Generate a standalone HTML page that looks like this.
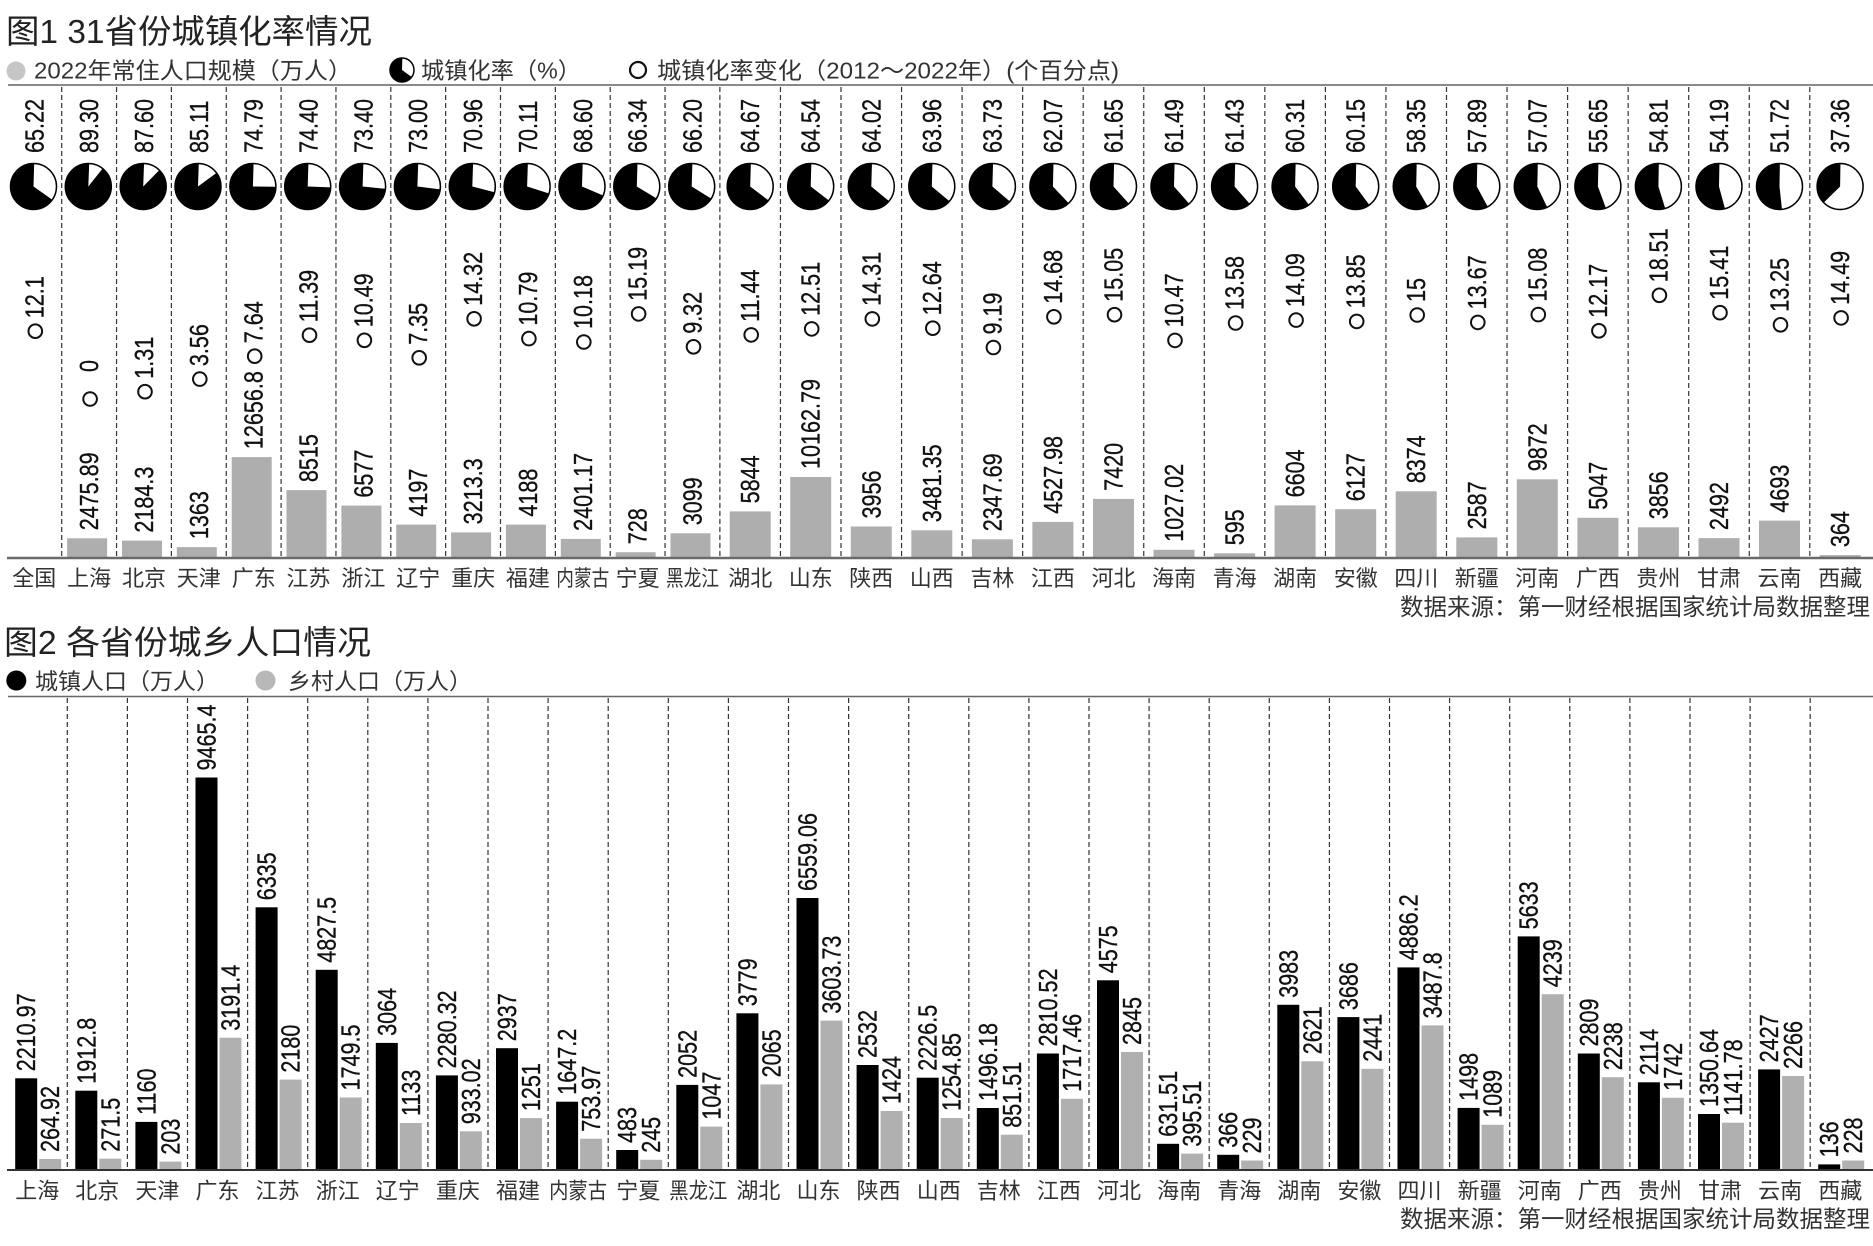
<!DOCTYPE html>
<html><head><meta charset="utf-8">
<style>
html,body{margin:0;padding:0;background:#fff;}
svg{display:block}
text{font-family:"Liberation Sans","Noto Sans CJK SC",sans-serif}
.n{font-size:26px;fill:#111;stroke:#111;stroke-width:0.35}
.c{font-size:22px;fill:#333;text-anchor:middle}
.h{font-size:33px;fill:#222}
.l{font-size:23px;fill:#333}
.s{font-size:23.5px;fill:#333;text-anchor:end}
.d{stroke:#333;stroke-width:1.2;stroke-dasharray:5 3;fill:none}
.g{fill:#aeaeae}
.k{fill:#000}
.po{fill:#fff;stroke:#000;stroke-width:1.5}
.pw{fill:none;stroke:#000;stroke-width:23}
.o{fill:#fff;stroke:#111;stroke-width:2}
</style></head>
<body>
<svg width="1873" height="1246" viewBox="0 0 1873 1246" xmlns="http://www.w3.org/2000/svg">
<rect width="1873" height="1246" fill="#fff"/>

<!-- ============ FIGURE 1 ============ -->
<text class="h" x="6" y="43" textLength="366" lengthAdjust="spacingAndGlyphs">图1 31省份城镇化率情况</text>
<circle cx="16" cy="71" r="9.5" fill="#c6c6c6"/>
<text class="l" x="34" y="78.5" textLength="318" lengthAdjust="spacingAndGlyphs">2022年常住人口规模（万人）</text>
<circle cx="402" cy="70" r="12" class="po"/>
<circle cx="402" cy="70" r="6" fill="none" stroke="#000" stroke-width="12" stroke-dasharray="24.5 100" transform="rotate(36 402 70)"/>
<text class="l" x="421" y="78.5" textLength="160" lengthAdjust="spacingAndGlyphs">城镇化率（%）</text>
<circle cx="638" cy="70" r="8" fill="none" stroke="#111" stroke-width="2.2"/>
<text class="l" x="657" y="78.5" textLength="462" lengthAdjust="spacingAndGlyphs">城镇化率变化（2012～2022年）(个百分点)</text>
<line x1="8" y1="85" x2="1873" y2="85" stroke="#8a8a8a" stroke-width="2"/>

<!-- dashed separators fig1 -->
<g class="d">
<line x1="61.7" y1="87" x2="61.7" y2="558"/><line x1="116.55" y1="87" x2="116.55" y2="558"/><line x1="171.4" y1="87" x2="171.4" y2="558"/><line x1="226.25" y1="87" x2="226.25" y2="558"/><line x1="281.1" y1="87" x2="281.1" y2="558"/><line x1="335.95" y1="87" x2="335.95" y2="558"/><line x1="390.8" y1="87" x2="390.8" y2="558"/><line x1="445.65" y1="87" x2="445.65" y2="558"/><line x1="500.5" y1="87" x2="500.5" y2="558"/><line x1="555.35" y1="87" x2="555.35" y2="558"/><line x1="610.2" y1="87" x2="610.2" y2="558"/><line x1="665.05" y1="87" x2="665.05" y2="558"/><line x1="719.9" y1="87" x2="719.9" y2="558"/><line x1="780.45" y1="87" x2="780.45" y2="558"/><line x1="841" y1="87" x2="841" y2="558"/><line x1="901.55" y1="87" x2="901.55" y2="558"/><line x1="962.1" y1="87" x2="962.1" y2="558"/><line x1="1022.65" y1="87" x2="1022.65" y2="558"/><line x1="1083.2" y1="87" x2="1083.2" y2="558"/><line x1="1143.75" y1="87" x2="1143.75" y2="558"/><line x1="1204.3" y1="87" x2="1204.3" y2="558"/><line x1="1264.85" y1="87" x2="1264.85" y2="558"/><line x1="1325.4" y1="87" x2="1325.4" y2="558"/><line x1="1385.95" y1="87" x2="1385.95" y2="558"/><line x1="1446.5" y1="87" x2="1446.5" y2="558"/><line x1="1507.05" y1="87" x2="1507.05" y2="558"/><line x1="1567.6" y1="87" x2="1567.6" y2="558"/><line x1="1628.15" y1="87" x2="1628.15" y2="558"/><line x1="1688.7" y1="87" x2="1688.7" y2="558"/><line x1="1749.25" y1="87" x2="1749.25" y2="558"/><line x1="1809.8" y1="87" x2="1809.8" y2="558"/>
</g>

<!-- percent labels -->
<g class="n">
<text transform="translate(43.3,153) rotate(-90) scale(.83,1)">65.22</text>
<text transform="translate(98.1,153) rotate(-90) scale(.83,1)">89.30</text>
<text transform="translate(153,153) rotate(-90) scale(.83,1)">87.60</text>
<text transform="translate(207.8,153) rotate(-90) scale(.83,1)">85.11</text>
<text transform="translate(262.7,153) rotate(-90) scale(.83,1)">74.79</text>
<text transform="translate(317.5,153) rotate(-90) scale(.83,1)">74.40</text>
<text transform="translate(372.4,153) rotate(-90) scale(.83,1)">73.40</text>
<text transform="translate(427.2,153) rotate(-90) scale(.83,1)">73.00</text>
<text transform="translate(482.1,153) rotate(-90) scale(.83,1)">70.96</text>
<text transform="translate(536.9,153) rotate(-90) scale(.83,1)">70.11</text>
<text transform="translate(591.8,153) rotate(-90) scale(.83,1)">68.60</text>
<text transform="translate(646.6,153) rotate(-90) scale(.83,1)">66.34</text>
<text transform="translate(701.5,153) rotate(-90) scale(.83,1)">66.20</text>
<text transform="translate(759.2,153) rotate(-90) scale(.83,1)">64.67</text>
<text transform="translate(819.7,153) rotate(-90) scale(.83,1)">64.54</text>
<text transform="translate(880.3,153) rotate(-90) scale(.83,1)">64.02</text>
<text transform="translate(940.8,153) rotate(-90) scale(.83,1)">63.96</text>
<text transform="translate(1001.4,153) rotate(-90) scale(.83,1)">63.73</text>
<text transform="translate(1061.9,153) rotate(-90) scale(.83,1)">62.07</text>
<text transform="translate(1122.5,153) rotate(-90) scale(.83,1)">61.65</text>
<text transform="translate(1183,153) rotate(-90) scale(.83,1)">61.49</text>
<text transform="translate(1243.6,153) rotate(-90) scale(.83,1)">61.43</text>
<text transform="translate(1304.1,153) rotate(-90) scale(.83,1)">60.31</text>
<text transform="translate(1364.7,153) rotate(-90) scale(.83,1)">60.15</text>
<text transform="translate(1425.2,153) rotate(-90) scale(.83,1)">58.35</text>
<text transform="translate(1485.8,153) rotate(-90) scale(.83,1)">57.89</text>
<text transform="translate(1546.3,153) rotate(-90) scale(.83,1)">57.07</text>
<text transform="translate(1606.9,153) rotate(-90) scale(.83,1)">55.65</text>
<text transform="translate(1667.4,153) rotate(-90) scale(.83,1)">54.81</text>
<text transform="translate(1728,153) rotate(-90) scale(.83,1)">54.19</text>
<text transform="translate(1788.5,153) rotate(-90) scale(.83,1)">51.72</text>
<text transform="translate(1849.1,153) rotate(-90) scale(.83,1)">37.36</text>
</g>

<!-- pies -->
<g>
<circle cx="33.5" cy="186.5" r="23" class="po"/><circle cx="33.5" cy="186.5" r="11.5" class="pw" stroke-dasharray="47.13 200" transform="rotate(35.21 33.5 186.5)"/>
<circle cx="88.3" cy="186.5" r="23" class="po"/><circle cx="88.3" cy="186.5" r="11.5" class="pw" stroke-dasharray="64.53 200" transform="rotate(-51.48 88.3 186.5)"/>
<circle cx="143.2" cy="186.5" r="23" class="po"/><circle cx="143.2" cy="186.5" r="11.5" class="pw" stroke-dasharray="63.30 200" transform="rotate(-45.36 143.2 186.5)"/>
<circle cx="198" cy="186.5" r="23" class="po"/><circle cx="198" cy="186.5" r="11.5" class="pw" stroke-dasharray="61.50 200" transform="rotate(-36.40 198 186.5)"/>
<circle cx="252.9" cy="186.5" r="23" class="po"/><circle cx="252.9" cy="186.5" r="11.5" class="pw" stroke-dasharray="54.04 200" transform="rotate(0.76 252.9 186.5)"/>
<circle cx="307.7" cy="186.5" r="23" class="po"/><circle cx="307.7" cy="186.5" r="11.5" class="pw" stroke-dasharray="53.76 200" transform="rotate(2.16 307.7 186.5)"/>
<circle cx="362.6" cy="186.5" r="23" class="po"/><circle cx="362.6" cy="186.5" r="11.5" class="pw" stroke-dasharray="53.04 200" transform="rotate(5.76 362.6 186.5)"/>
<circle cx="417.4" cy="186.5" r="23" class="po"/><circle cx="417.4" cy="186.5" r="11.5" class="pw" stroke-dasharray="52.75 200" transform="rotate(7.2 417.4 186.5)"/>
<circle cx="472.3" cy="186.5" r="23" class="po"/><circle cx="472.3" cy="186.5" r="11.5" class="pw" stroke-dasharray="51.27 200" transform="rotate(14.54 472.3 186.5)"/>
<circle cx="527.1" cy="186.5" r="23" class="po"/><circle cx="527.1" cy="186.5" r="11.5" class="pw" stroke-dasharray="50.66 200" transform="rotate(17.60 527.1 186.5)"/>
<circle cx="582" cy="186.5" r="23" class="po"/><circle cx="582" cy="186.5" r="11.5" class="pw" stroke-dasharray="49.57 200" transform="rotate(23.04 582 186.5)"/>
<circle cx="636.8" cy="186.5" r="23" class="po"/><circle cx="636.8" cy="186.5" r="11.5" class="pw" stroke-dasharray="47.94 200" transform="rotate(31.18 636.8 186.5)"/>
<circle cx="691.7" cy="186.5" r="23" class="po"/><circle cx="691.7" cy="186.5" r="11.5" class="pw" stroke-dasharray="47.83 200" transform="rotate(31.68 691.7 186.5)"/>
<circle cx="750.2" cy="186.5" r="23" class="po"/><circle cx="750.2" cy="186.5" r="11.5" class="pw" stroke-dasharray="46.73 200" transform="rotate(37.19 750.2 186.5)"/>
<circle cx="810.7" cy="186.5" r="23" class="po"/><circle cx="810.7" cy="186.5" r="11.5" class="pw" stroke-dasharray="46.63 200" transform="rotate(37.66 810.7 186.5)"/>
<circle cx="871.3" cy="186.5" r="23" class="po"/><circle cx="871.3" cy="186.5" r="11.5" class="pw" stroke-dasharray="46.26 200" transform="rotate(39.53 871.3 186.5)"/>
<circle cx="931.8" cy="186.5" r="23" class="po"/><circle cx="931.8" cy="186.5" r="11.5" class="pw" stroke-dasharray="46.22 200" transform="rotate(39.74 931.8 186.5)"/>
<circle cx="992.4" cy="186.5" r="23" class="po"/><circle cx="992.4" cy="186.5" r="11.5" class="pw" stroke-dasharray="46.05 200" transform="rotate(40.57 992.4 186.5)"/>
<circle cx="1052.9" cy="186.5" r="23" class="po"/><circle cx="1052.9" cy="186.5" r="11.5" class="pw" stroke-dasharray="44.85 200" transform="rotate(46.55 1052.9 186.5)"/>
<circle cx="1113.5" cy="186.5" r="23" class="po"/><circle cx="1113.5" cy="186.5" r="11.5" class="pw" stroke-dasharray="44.55 200" transform="rotate(48.06 1113.5 186.5)"/>
<circle cx="1174" cy="186.5" r="23" class="po"/><circle cx="1174" cy="186.5" r="11.5" class="pw" stroke-dasharray="44.43 200" transform="rotate(48.64 1174 186.5)"/>
<circle cx="1234.6" cy="186.5" r="23" class="po"/><circle cx="1234.6" cy="186.5" r="11.5" class="pw" stroke-dasharray="44.39 200" transform="rotate(48.85 1234.6 186.5)"/>
<circle cx="1295.1" cy="186.5" r="23" class="po"/><circle cx="1295.1" cy="186.5" r="11.5" class="pw" stroke-dasharray="43.58 200" transform="rotate(52.88 1295.1 186.5)"/>
<circle cx="1355.7" cy="186.5" r="23" class="po"/><circle cx="1355.7" cy="186.5" r="11.5" class="pw" stroke-dasharray="43.46 200" transform="rotate(53.46 1355.7 186.5)"/>
<circle cx="1416.2" cy="186.5" r="23" class="po"/><circle cx="1416.2" cy="186.5" r="11.5" class="pw" stroke-dasharray="42.16 200" transform="rotate(59.94 1416.2 186.5)"/>
<circle cx="1476.8" cy="186.5" r="23" class="po"/><circle cx="1476.8" cy="186.5" r="11.5" class="pw" stroke-dasharray="41.83 200" transform="rotate(61.60 1476.8 186.5)"/>
<circle cx="1537.3" cy="186.5" r="23" class="po"/><circle cx="1537.3" cy="186.5" r="11.5" class="pw" stroke-dasharray="41.24 200" transform="rotate(64.55 1537.3 186.5)"/>
<circle cx="1597.9" cy="186.5" r="23" class="po"/><circle cx="1597.9" cy="186.5" r="11.5" class="pw" stroke-dasharray="40.21 200" transform="rotate(69.66 1597.9 186.5)"/>
<circle cx="1658.4" cy="186.5" r="23" class="po"/><circle cx="1658.4" cy="186.5" r="11.5" class="pw" stroke-dasharray="39.60 200" transform="rotate(72.68 1658.4 186.5)"/>
<circle cx="1719" cy="186.5" r="23" class="po"/><circle cx="1719" cy="186.5" r="11.5" class="pw" stroke-dasharray="39.16 200" transform="rotate(74.92 1719 186.5)"/>
<circle cx="1779.5" cy="186.5" r="23" class="po"/><circle cx="1779.5" cy="186.5" r="11.5" class="pw" stroke-dasharray="37.37 200" transform="rotate(83.81 1779.5 186.5)"/>
<circle cx="1840.1" cy="186.5" r="23" class="po"/><circle cx="1840.1" cy="186.5" r="11.5" class="pw" stroke-dasharray="27.00 200" transform="rotate(135.50 1840.1 186.5)"/>
</g>

<!-- change markers -->
<g>
<circle cx="35.3" cy="331.2" r="6.8" class="o"/>
<circle cx="90.1" cy="399" r="6.8" class="o"/>
<circle cx="145" cy="391.7" r="6.8" class="o"/>
<circle cx="199.8" cy="379.1" r="6.8" class="o"/>
<circle cx="254.7" cy="356.2" r="6.8" class="o"/>
<circle cx="309.5" cy="335.2" r="6.8" class="o"/>
<circle cx="364.4" cy="340.3" r="6.8" class="o"/>
<circle cx="419.2" cy="357.8" r="6.8" class="o"/>
<circle cx="474.1" cy="318.8" r="6.8" class="o"/>
<circle cx="528.9" cy="338.6" r="6.8" class="o"/>
<circle cx="583.8" cy="342" r="6.8" class="o"/>
<circle cx="638.6" cy="313.9" r="6.8" class="o"/>
<circle cx="693.5" cy="346.8" r="6.8" class="o"/>
<circle cx="751.2" cy="334.9" r="6.8" class="o"/>
<circle cx="811.7" cy="328.9" r="6.8" class="o"/>
<circle cx="872.3" cy="318.9" r="6.8" class="o"/>
<circle cx="932.8" cy="328.2" r="6.8" class="o"/>
<circle cx="993.4" cy="347.5" r="6.8" class="o"/>
<circle cx="1053.9" cy="316.8" r="6.8" class="o"/>
<circle cx="1114.5" cy="314.7" r="6.8" class="o"/>
<circle cx="1175" cy="340.4" r="6.8" class="o"/>
<circle cx="1235.6" cy="323" r="6.8" class="o"/>
<circle cx="1296.1" cy="320.1" r="6.8" class="o"/>
<circle cx="1356.7" cy="321.4" r="6.8" class="o"/>
<circle cx="1417.2" cy="315" r="6.8" class="o"/>
<circle cx="1477.8" cy="322.4" r="6.8" class="o"/>
<circle cx="1538.3" cy="314.6" r="6.8" class="o"/>
<circle cx="1598.9" cy="330.8" r="6.8" class="o"/>
<circle cx="1659.4" cy="295.3" r="6.8" class="o"/>
<circle cx="1720" cy="312.7" r="6.8" class="o"/>
<circle cx="1780.5" cy="324.8" r="6.8" class="o"/>
<circle cx="1841.1" cy="317.9" r="6.8" class="o"/>
</g>
<g class="n">
<text transform="translate(43.3,318.2) rotate(-90) scale(.83,1)">12.1</text>
<text transform="translate(98.1,372) rotate(-90) scale(.83,1)">0</text>
<text transform="translate(153,378.7) rotate(-90) scale(.83,1)">1.31</text>
<text transform="translate(207.8,366.1) rotate(-90) scale(.83,1)">3.56</text>
<text transform="translate(262.7,343.2) rotate(-90) scale(.83,1)">7.64</text>
<text transform="translate(317.5,322.2) rotate(-90) scale(.83,1)">11.39</text>
<text transform="translate(372.4,327.3) rotate(-90) scale(.83,1)">10.49</text>
<text transform="translate(427.2,344.8) rotate(-90) scale(.83,1)">7.35</text>
<text transform="translate(482.1,305.8) rotate(-90) scale(.83,1)">14.32</text>
<text transform="translate(536.9,325.6) rotate(-90) scale(.83,1)">10.79</text>
<text transform="translate(591.8,329) rotate(-90) scale(.83,1)">10.18</text>
<text transform="translate(646.6,300.9) rotate(-90) scale(.83,1)">15.19</text>
<text transform="translate(701.5,333.8) rotate(-90) scale(.83,1)">9.32</text>
<text transform="translate(759.2,321.9) rotate(-90) scale(.83,1)">11.44</text>
<text transform="translate(819.7,315.9) rotate(-90) scale(.83,1)">12.51</text>
<text transform="translate(880.3,305.9) rotate(-90) scale(.83,1)">14.31</text>
<text transform="translate(940.8,315.2) rotate(-90) scale(.83,1)">12.64</text>
<text transform="translate(1001.4,334.5) rotate(-90) scale(.83,1)">9.19</text>
<text transform="translate(1061.9,303.8) rotate(-90) scale(.83,1)">14.68</text>
<text transform="translate(1122.5,301.7) rotate(-90) scale(.83,1)">15.05</text>
<text transform="translate(1183,327.4) rotate(-90) scale(.83,1)">10.47</text>
<text transform="translate(1243.6,310) rotate(-90) scale(.83,1)">13.58</text>
<text transform="translate(1304.1,307.1) rotate(-90) scale(.83,1)">14.09</text>
<text transform="translate(1364.7,308.4) rotate(-90) scale(.83,1)">13.85</text>
<text transform="translate(1425.2,302) rotate(-90) scale(.83,1)">15</text>
<text transform="translate(1485.8,309.4) rotate(-90) scale(.83,1)">13.67</text>
<text transform="translate(1546.3,301.6) rotate(-90) scale(.83,1)">15.08</text>
<text transform="translate(1606.9,317.8) rotate(-90) scale(.83,1)">12.17</text>
<text transform="translate(1667.4,282.3) rotate(-90) scale(.83,1)">18.51</text>
<text transform="translate(1728,299.7) rotate(-90) scale(.83,1)">15.41</text>
<text transform="translate(1788.5,311.8) rotate(-90) scale(.83,1)">13.25</text>
<text transform="translate(1849.1,304.9) rotate(-90) scale(.83,1)">14.49</text>
</g>

<!-- population bars -->
<g class="g">
<rect x="67.1" y="538.3" width="40" height="19.7"/>
<rect x="122" y="540.6" width="40" height="17.4"/>
<rect x="176.8" y="547.1" width="40" height="10.9"/>
<rect x="231.7" y="457.1" width="40" height="100.9"/>
<rect x="286.5" y="490.1" width="40" height="67.9"/>
<rect x="341.4" y="505.6" width="40" height="52.4"/>
<rect x="396.2" y="524.6" width="40" height="33.4"/>
<rect x="451.1" y="532.4" width="40" height="25.6"/>
<rect x="505.9" y="524.6" width="40" height="33.4"/>
<rect x="560.8" y="538.9" width="40" height="19.1"/>
<rect x="615.6" y="552.2" width="40" height="5.8"/>
<rect x="670.5" y="533.3" width="40" height="24.7"/>
<rect x="729.7" y="511.4" width="41" height="46.6"/>
<rect x="790.2" y="477" width="41" height="81"/>
<rect x="850.8" y="526.5" width="41" height="31.5"/>
<rect x="911.3" y="530.3" width="41" height="27.7"/>
<rect x="971.9" y="539.3" width="41" height="18.7"/>
<rect x="1032.4" y="521.9" width="41" height="36.1"/>
<rect x="1093" y="498.9" width="41" height="59.1"/>
<rect x="1153.5" y="549.8" width="41" height="8.2"/>
<rect x="1214.1" y="553.3" width="41" height="4.7"/>
<rect x="1274.6" y="505.4" width="41" height="52.6"/>
<rect x="1335.2" y="509.2" width="41" height="48.8"/>
<rect x="1395.7" y="491.3" width="41" height="66.7"/>
<rect x="1456.3" y="537.4" width="41" height="20.6"/>
<rect x="1516.8" y="479.3" width="41" height="78.7"/>
<rect x="1577.4" y="517.8" width="41" height="40.2"/>
<rect x="1637.9" y="527.3" width="41" height="30.7"/>
<rect x="1698.5" y="538.1" width="41" height="19.9"/>
<rect x="1759" y="520.6" width="41" height="37.4"/>
<rect x="1819.6" y="555.1" width="41" height="2.9"/>
</g>
<g class="n">
<text transform="translate(98.1,530.3) rotate(-90) scale(.83,1)">2475.89</text>
<text transform="translate(153,532.6) rotate(-90) scale(.83,1)">2184.3</text>
<text transform="translate(207.8,539.1) rotate(-90) scale(.83,1)">1363</text>
<text transform="translate(262.7,449.1) rotate(-90) scale(.83,1)">12656.8</text>
<text transform="translate(317.5,482.1) rotate(-90) scale(.83,1)">8515</text>
<text transform="translate(372.4,497.6) rotate(-90) scale(.83,1)">6577</text>
<text transform="translate(427.2,516.6) rotate(-90) scale(.83,1)">4197</text>
<text transform="translate(482.1,524.4) rotate(-90) scale(.83,1)">3213.3</text>
<text transform="translate(536.9,516.6) rotate(-90) scale(.83,1)">4188</text>
<text transform="translate(591.8,530.9) rotate(-90) scale(.83,1)">2401.17</text>
<text transform="translate(646.6,544.2) rotate(-90) scale(.83,1)">728</text>
<text transform="translate(701.5,525.3) rotate(-90) scale(.83,1)">3099</text>
<text transform="translate(759.2,503.4) rotate(-90) scale(.83,1)">5844</text>
<text transform="translate(819.7,469) rotate(-90) scale(.83,1)">10162.79</text>
<text transform="translate(880.3,518.5) rotate(-90) scale(.83,1)">3956</text>
<text transform="translate(940.8,522.3) rotate(-90) scale(.83,1)">3481.35</text>
<text transform="translate(1001.4,531.3) rotate(-90) scale(.83,1)">2347.69</text>
<text transform="translate(1061.9,513.9) rotate(-90) scale(.83,1)">4527.98</text>
<text transform="translate(1122.5,490.9) rotate(-90) scale(.83,1)">7420</text>
<text transform="translate(1183,541.8) rotate(-90) scale(.83,1)">1027.02</text>
<text transform="translate(1243.6,545.3) rotate(-90) scale(.83,1)">595</text>
<text transform="translate(1304.1,497.4) rotate(-90) scale(.83,1)">6604</text>
<text transform="translate(1364.7,501.2) rotate(-90) scale(.83,1)">6127</text>
<text transform="translate(1425.2,483.3) rotate(-90) scale(.83,1)">8374</text>
<text transform="translate(1485.8,529.4) rotate(-90) scale(.83,1)">2587</text>
<text transform="translate(1546.3,471.3) rotate(-90) scale(.83,1)">9872</text>
<text transform="translate(1606.9,509.8) rotate(-90) scale(.83,1)">5047</text>
<text transform="translate(1667.4,519.3) rotate(-90) scale(.83,1)">3856</text>
<text transform="translate(1728,530.1) rotate(-90) scale(.83,1)">2492</text>
<text transform="translate(1788.5,512.6) rotate(-90) scale(.83,1)">4693</text>
<text transform="translate(1849.1,547.1) rotate(-90) scale(.83,1)">364</text>
</g>

<line x1="7" y1="558" x2="1873" y2="558" stroke="#6a6a6a" stroke-width="2.5"/>

<g class="c">
<text x="34.3" y="586">全国</text><text x="89.1" y="586">上海</text><text x="144" y="586">北京</text><text x="198.8" y="586">天津</text><text x="253.7" y="586">广东</text><text x="308.5" y="586">江苏</text><text x="363.4" y="586">浙江</text><text x="418.2" y="586">辽宁</text><text x="473.1" y="586">重庆</text><text x="527.9" y="586">福建</text><text x="582.8" y="586" textLength="53" lengthAdjust="spacingAndGlyphs">内蒙古</text><text x="637.6" y="586">宁夏</text><text x="692.5" y="586" textLength="53" lengthAdjust="spacingAndGlyphs">黑龙江</text><text x="750.2" y="586">湖北</text><text x="810.7" y="586">山东</text><text x="871.3" y="586">陕西</text><text x="931.8" y="586">山西</text><text x="992.4" y="586">吉林</text><text x="1052.9" y="586">江西</text><text x="1113.5" y="586">河北</text><text x="1174" y="586">海南</text><text x="1234.6" y="586">青海</text><text x="1295.1" y="586">湖南</text><text x="1355.7" y="586">安徽</text><text x="1416.2" y="586">四川</text><text x="1476.8" y="586">新疆</text><text x="1537.3" y="586">河南</text><text x="1597.9" y="586">广西</text><text x="1658.4" y="586">贵州</text><text x="1719" y="586">甘肃</text><text x="1779.5" y="586">云南</text><text x="1840.1" y="586">西藏</text>
</g>
<text class="s" x="1870" y="615" textLength="470" lengthAdjust="spacingAndGlyphs">数据来源：第一财经根据国家统计局数据整理</text>

<!-- ============ FIGURE 2 ============ -->
<text class="h" x="4" y="654" textLength="367" lengthAdjust="spacingAndGlyphs">图2 各省份城乡人口情况</text>
<circle cx="16.3" cy="680.5" r="10" fill="#000"/>
<text class="l" x="35" y="689.5" textLength="184" lengthAdjust="spacingAndGlyphs" style="font-size:22.5px">城镇人口（万人）</text>
<circle cx="265.5" cy="680.5" r="10" fill="#b8b8b8"/>
<text class="l" x="288" y="689.5" textLength="184" lengthAdjust="spacingAndGlyphs" style="font-size:22.5px">乡村人口（万人）</text>
<line x1="8" y1="696.5" x2="1873" y2="696.5" stroke="#666" stroke-width="1.5"/>

<g class="d">
<line x1="67.3" y1="698" x2="67.3" y2="1170"/><line x1="127.4" y1="698" x2="127.4" y2="1170"/><line x1="187.5" y1="698" x2="187.5" y2="1170"/><line x1="247.6" y1="698" x2="247.6" y2="1170"/><line x1="307.7" y1="698" x2="307.7" y2="1170"/><line x1="367.8" y1="698" x2="367.8" y2="1170"/><line x1="427.9" y1="698" x2="427.9" y2="1170"/><line x1="488" y1="698" x2="488" y2="1170"/><line x1="548.1" y1="698" x2="548.1" y2="1170"/><line x1="608.2" y1="698" x2="608.2" y2="1170"/><line x1="668.3" y1="698" x2="668.3" y2="1170"/><line x1="728.4" y1="698" x2="728.4" y2="1170"/><line x1="788.5" y1="698" x2="788.5" y2="1170"/><line x1="848.6" y1="698" x2="848.6" y2="1170"/><line x1="908.7" y1="698" x2="908.7" y2="1170"/><line x1="968.8" y1="698" x2="968.8" y2="1170"/><line x1="1028.9" y1="698" x2="1028.9" y2="1170"/><line x1="1089" y1="698" x2="1089" y2="1170"/><line x1="1149.1" y1="698" x2="1149.1" y2="1170"/><line x1="1209.2" y1="698" x2="1209.2" y2="1170"/><line x1="1269.3" y1="698" x2="1269.3" y2="1170"/><line x1="1329.4" y1="698" x2="1329.4" y2="1170"/><line x1="1389.5" y1="698" x2="1389.5" y2="1170"/><line x1="1449.6" y1="698" x2="1449.6" y2="1170"/><line x1="1509.7" y1="698" x2="1509.7" y2="1170"/><line x1="1569.8" y1="698" x2="1569.8" y2="1170"/><line x1="1629.9" y1="698" x2="1629.9" y2="1170"/><line x1="1690" y1="698" x2="1690" y2="1170"/><line x1="1750.1" y1="698" x2="1750.1" y2="1170"/><line x1="1810.2" y1="698" x2="1810.2" y2="1170"/>
</g>

<!-- urban bars (black) -->
<g class="k">
<rect x="15.2" y="1078.3" width="22" height="91.7"/>
<rect x="75.3" y="1090.7" width="22" height="79.3"/>
<rect x="135.4" y="1121.9" width="22" height="48.1"/>
<rect x="195.5" y="777.5" width="22" height="392.5"/>
<rect x="255.6" y="907.3" width="22" height="262.7"/>
<rect x="315.7" y="969.8" width="22" height="200.2"/>
<rect x="375.8" y="1042.9" width="22" height="127.1"/>
<rect x="435.9" y="1075.4" width="22" height="94.6"/>
<rect x="496" y="1048.2" width="22" height="121.8"/>
<rect x="556.1" y="1101.7" width="22" height="68.3"/>
<rect x="616.2" y="1150" width="22" height="20"/>
<rect x="676.3" y="1084.9" width="22" height="85.1"/>
<rect x="736.4" y="1013.3" width="22" height="156.7"/>
<rect x="796.5" y="898" width="22" height="272"/>
<rect x="856.6" y="1065" width="22" height="105"/>
<rect x="916.7" y="1077.7" width="22" height="92.3"/>
<rect x="976.8" y="1108" width="22" height="62"/>
<rect x="1036.9" y="1053.5" width="22" height="116.5"/>
<rect x="1097" y="980.3" width="22" height="189.7"/>
<rect x="1157.1" y="1143.8" width="22" height="26.2"/>
<rect x="1217.2" y="1154.8" width="22" height="15.2"/>
<rect x="1277.3" y="1004.8" width="22" height="165.2"/>
<rect x="1337.4" y="1017.1" width="22" height="152.9"/>
<rect x="1397.5" y="967.4" width="22" height="202.6"/>
<rect x="1457.6" y="1107.9" width="22" height="62.1"/>
<rect x="1517.7" y="936.4" width="22" height="233.6"/>
<rect x="1577.8" y="1053.5" width="22" height="116.5"/>
<rect x="1637.9" y="1082.3" width="22" height="87.7"/>
<rect x="1698" y="1114" width="22" height="56"/>
<rect x="1758.1" y="1069.4" width="22" height="100.6"/>
<rect x="1818.2" y="1164.4" width="22" height="5.6"/>
</g>
<!-- rural bars (grey) -->
<g fill="#b0b0b0">
<rect x="39.2" y="1159" width="22" height="11"/>
<rect x="99.3" y="1158.7" width="22" height="11.3"/>
<rect x="159.4" y="1161.6" width="22" height="8.4"/>
<rect x="219.5" y="1037.7" width="22" height="132.3"/>
<rect x="279.6" y="1079.6" width="22" height="90.4"/>
<rect x="339.7" y="1097.5" width="22" height="72.5"/>
<rect x="399.8" y="1123" width="22" height="47"/>
<rect x="459.9" y="1131.3" width="22" height="38.7"/>
<rect x="520" y="1118.1" width="22" height="51.9"/>
<rect x="580.1" y="1138.7" width="22" height="31.3"/>
<rect x="640.2" y="1159.8" width="22" height="10.2"/>
<rect x="700.3" y="1126.6" width="22" height="43.4"/>
<rect x="760.4" y="1084.4" width="22" height="85.6"/>
<rect x="820.5" y="1020.6" width="22" height="149.4"/>
<rect x="880.6" y="1111" width="22" height="59"/>
<rect x="940.7" y="1118" width="22" height="52"/>
<rect x="1000.8" y="1134.7" width="22" height="35.3"/>
<rect x="1060.9" y="1098.8" width="22" height="71.2"/>
<rect x="1121" y="1052" width="22" height="118"/>
<rect x="1181.1" y="1153.6" width="22" height="16.4"/>
<rect x="1241.2" y="1160.5" width="22" height="9.5"/>
<rect x="1301.3" y="1061.3" width="22" height="108.7"/>
<rect x="1361.4" y="1068.8" width="22" height="101.2"/>
<rect x="1421.5" y="1025.4" width="22" height="144.6"/>
<rect x="1481.6" y="1124.8" width="22" height="45.2"/>
<rect x="1541.7" y="994.2" width="22" height="175.8"/>
<rect x="1601.8" y="1077.2" width="22" height="92.8"/>
<rect x="1661.9" y="1097.8" width="22" height="72.2"/>
<rect x="1722" y="1122.7" width="22" height="47.3"/>
<rect x="1782.1" y="1076" width="22" height="94"/>
<rect x="1842.2" y="1160.5" width="22" height="9.5"/>
</g>

<!-- fig2 labels -->
<g class="n">
<text transform="translate(35.2,1071.3) rotate(-90) scale(.83,1)">2210.97</text>
<text transform="translate(59.2,1152) rotate(-90) scale(.83,1)">264.92</text>
<text transform="translate(95.3,1083.7) rotate(-90) scale(.83,1)">1912.8</text>
<text transform="translate(119.3,1151.7) rotate(-90) scale(.83,1)">271.5</text>
<text transform="translate(155.4,1114.9) rotate(-90) scale(.83,1)">1160</text>
<text transform="translate(179.4,1154.6) rotate(-90) scale(.83,1)">203</text>
<text transform="translate(215.5,770.5) rotate(-90) scale(.83,1)">9465.4</text>
<text transform="translate(239.5,1030.7) rotate(-90) scale(.83,1)">3191.4</text>
<text transform="translate(275.6,900.3) rotate(-90) scale(.83,1)">6335</text>
<text transform="translate(299.6,1072.6) rotate(-90) scale(.83,1)">2180</text>
<text transform="translate(335.7,962.8) rotate(-90) scale(.83,1)">4827.5</text>
<text transform="translate(359.7,1090.5) rotate(-90) scale(.83,1)">1749.5</text>
<text transform="translate(395.8,1035.9) rotate(-90) scale(.83,1)">3064</text>
<text transform="translate(419.8,1116) rotate(-90) scale(.83,1)">1133</text>
<text transform="translate(455.9,1068.4) rotate(-90) scale(.83,1)">2280.32</text>
<text transform="translate(479.9,1124.3) rotate(-90) scale(.83,1)">933.02</text>
<text transform="translate(516,1041.2) rotate(-90) scale(.83,1)">2937</text>
<text transform="translate(540,1111.1) rotate(-90) scale(.83,1)">1251</text>
<text transform="translate(576.1,1094.7) rotate(-90) scale(.83,1)">1647.2</text>
<text transform="translate(600.1,1131.7) rotate(-90) scale(.83,1)">753.97</text>
<text transform="translate(636.2,1143) rotate(-90) scale(.83,1)">483</text>
<text transform="translate(660.2,1152.8) rotate(-90) scale(.83,1)">245</text>
<text transform="translate(696.3,1077.9) rotate(-90) scale(.83,1)">2052</text>
<text transform="translate(720.3,1119.6) rotate(-90) scale(.83,1)">1047</text>
<text transform="translate(756.4,1006.3) rotate(-90) scale(.83,1)">3779</text>
<text transform="translate(780.4,1077.4) rotate(-90) scale(.83,1)">2065</text>
<text transform="translate(816.5,891) rotate(-90) scale(.83,1)">6559.06</text>
<text transform="translate(840.5,1013.6) rotate(-90) scale(.83,1)">3603.73</text>
<text transform="translate(876.6,1058) rotate(-90) scale(.83,1)">2532</text>
<text transform="translate(900.6,1104) rotate(-90) scale(.83,1)">1424</text>
<text transform="translate(936.7,1070.7) rotate(-90) scale(.83,1)">2226.5</text>
<text transform="translate(960.7,1111) rotate(-90) scale(.83,1)">1254.85</text>
<text transform="translate(996.8,1101) rotate(-90) scale(.83,1)">1496.18</text>
<text transform="translate(1020.8,1127.7) rotate(-90) scale(.83,1)">851.51</text>
<text transform="translate(1056.9,1046.5) rotate(-90) scale(.83,1)">2810.52</text>
<text transform="translate(1080.9,1091.8) rotate(-90) scale(.83,1)">1717.46</text>
<text transform="translate(1117,973.3) rotate(-90) scale(.83,1)">4575</text>
<text transform="translate(1141,1045) rotate(-90) scale(.83,1)">2845</text>
<text transform="translate(1177.1,1136.8) rotate(-90) scale(.83,1)">631.51</text>
<text transform="translate(1201.1,1146.6) rotate(-90) scale(.83,1)">395.51</text>
<text transform="translate(1237.2,1147.8) rotate(-90) scale(.83,1)">366</text>
<text transform="translate(1261.2,1153.5) rotate(-90) scale(.83,1)">229</text>
<text transform="translate(1297.3,997.8) rotate(-90) scale(.83,1)">3983</text>
<text transform="translate(1321.3,1054.3) rotate(-90) scale(.83,1)">2621</text>
<text transform="translate(1357.4,1010.1) rotate(-90) scale(.83,1)">3686</text>
<text transform="translate(1381.4,1061.8) rotate(-90) scale(.83,1)">2441</text>
<text transform="translate(1417.5,960.4) rotate(-90) scale(.83,1)">4886.2</text>
<text transform="translate(1441.5,1018.4) rotate(-90) scale(.83,1)">3487.8</text>
<text transform="translate(1477.6,1100.9) rotate(-90) scale(.83,1)">1498</text>
<text transform="translate(1501.6,1117.8) rotate(-90) scale(.83,1)">1089</text>
<text transform="translate(1537.7,929.4) rotate(-90) scale(.83,1)">5633</text>
<text transform="translate(1561.7,987.2) rotate(-90) scale(.83,1)">4239</text>
<text transform="translate(1597.8,1046.5) rotate(-90) scale(.83,1)">2809</text>
<text transform="translate(1621.8,1070.2) rotate(-90) scale(.83,1)">2238</text>
<text transform="translate(1657.9,1075.3) rotate(-90) scale(.83,1)">2114</text>
<text transform="translate(1681.9,1090.8) rotate(-90) scale(.83,1)">1742</text>
<text transform="translate(1718,1107) rotate(-90) scale(.83,1)">1350.64</text>
<text transform="translate(1742,1115.7) rotate(-90) scale(.83,1)">1141.78</text>
<text transform="translate(1778.1,1062.4) rotate(-90) scale(.83,1)">2427</text>
<text transform="translate(1802.1,1069) rotate(-90) scale(.83,1)">2266</text>
<text transform="translate(1838.2,1157.4) rotate(-90) scale(.83,1)">136</text>
<text transform="translate(1862.2,1153.5) rotate(-90) scale(.83,1)">228</text>
</g>

<line x1="7" y1="1170" x2="1873" y2="1170" stroke="#333" stroke-width="2"/>

<g class="c">
<text x="37.2" y="1198.5">上海</text><text x="97.3" y="1198.5">北京</text><text x="157.4" y="1198.5">天津</text><text x="217.5" y="1198.5">广东</text><text x="277.6" y="1198.5">江苏</text><text x="337.7" y="1198.5">浙江</text><text x="397.8" y="1198.5">辽宁</text><text x="457.9" y="1198.5">重庆</text><text x="518" y="1198.5">福建</text><text x="578.1" y="1198.5" textLength="58" lengthAdjust="spacingAndGlyphs">内蒙古</text><text x="638.2" y="1198.5">宁夏</text><text x="698.3" y="1198.5" textLength="58" lengthAdjust="spacingAndGlyphs">黑龙江</text><text x="758.4" y="1198.5">湖北</text><text x="818.5" y="1198.5">山东</text><text x="878.6" y="1198.5">陕西</text><text x="938.7" y="1198.5">山西</text><text x="998.8" y="1198.5">吉林</text><text x="1058.9" y="1198.5">江西</text><text x="1119" y="1198.5">河北</text><text x="1179.1" y="1198.5">海南</text><text x="1239.2" y="1198.5">青海</text><text x="1299.3" y="1198.5">湖南</text><text x="1359.4" y="1198.5">安徽</text><text x="1419.5" y="1198.5">四川</text><text x="1479.6" y="1198.5">新疆</text><text x="1539.7" y="1198.5">河南</text><text x="1599.8" y="1198.5">广西</text><text x="1659.9" y="1198.5">贵州</text><text x="1720" y="1198.5">甘肃</text><text x="1780.1" y="1198.5">云南</text><text x="1840.2" y="1198.5">西藏</text>
</g>
<text class="s" x="1870" y="1227" textLength="470" lengthAdjust="spacingAndGlyphs">数据来源：第一财经根据国家统计局数据整理</text>
</svg>
</body></html>
